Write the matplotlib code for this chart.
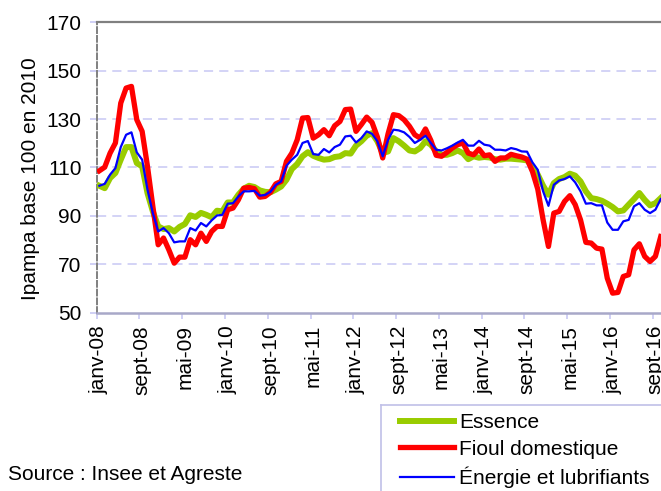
import numpy as np
import matplotlib
matplotlib.use("Agg")
import matplotlib.pyplot as plt
from matplotlib.lines import Line2D

plt.rcParams['font.family'] = ['Liberation Sans', 'DejaVu Sans']

# Monthly series, janv-08 .. oct-16
essence = [102.4, 101.4, 105.6, 107.7, 113.2, 118.4, 118.4, 111.8, 110.4, 99.4,
           91.8, 85.6, 84.5, 84.9, 83.5, 85.4, 86.6, 90.2, 89.5, 91.2,
           90.4, 89.4, 92.1, 91.8, 95.5, 95.5, 98.7, 101.2, 102.4, 101.9,
           100.5, 99.9, 99.7, 100.8, 102.1, 104.9, 109.3, 111.4, 114.6, 116.3,
           114.8, 113.9, 113.2, 113.4, 114.3, 114.6, 115.9, 115.7, 119.0, 120.8,
           123.1, 124.2, 120.8, 115.9, 116.6, 122.1, 120.8, 119.0, 117.0, 116.6,
           118.0, 120.8, 119.4, 116.6, 115.2, 115.2, 115.9, 117.0, 115.9, 113.4,
           114.6, 114.0, 114.3, 114.1, 113.4, 113.2, 113.6, 113.6, 113.4, 113.2,
           112.9, 110.4, 107.0, 102.4, 98.7, 103.5, 105.2, 106.0, 107.4, 106.6,
           104.2, 100.1, 97.3, 96.9, 96.2, 95.0, 93.6, 91.8, 92.2, 94.6,
           96.9, 99.4, 96.6, 94.3, 95.2, 97.3]

fioul = [108.6, 110.1, 115.9, 120.1, 136.6, 142.8, 143.5, 129.7, 124.9, 110.4,
         93.9, 78.0, 80.8, 75.9, 70.4, 72.9, 72.9, 80.1, 78.0, 82.8,
         79.4, 83.5, 85.6, 85.6, 92.5, 93.2, 96.6, 101.4, 101.7, 101.2,
         97.7, 98.0, 99.7, 103.2, 104.2, 112.5, 115.9, 121.4, 130.4, 130.6,
         122.1, 123.5, 125.6, 123.1, 127.2, 129.0, 133.9, 134.1, 124.9, 127.7,
         130.8, 128.6, 122.6, 113.9, 123.9, 131.8, 131.4, 129.7, 127.0, 123.5,
         122.1, 125.9, 121.2, 115.0, 114.6, 116.2, 118.0, 119.4, 120.1, 115.9,
         115.2, 117.6, 114.8, 115.2, 112.5, 113.9, 113.9, 115.4, 114.8, 114.3,
         113.4, 108.3, 101.0, 88.3, 77.3, 91.1, 91.8, 95.9, 98.3, 94.6,
         88.3, 79.0, 78.7, 76.6, 76.2, 64.2, 58.0, 58.3, 64.9, 65.6,
         75.9, 78.4, 73.2, 71.1, 73.2, 81.4]

energie = [102.4, 103.2, 107.0, 109.7, 118.4, 123.5, 124.5, 116.2, 113.2, 100.8,
           91.1, 83.5, 84.9, 82.8, 79.0, 79.4, 79.4, 84.9, 83.9, 87.0,
           85.6, 88.1, 90.1, 90.4, 95.0, 95.2, 98.0, 100.1, 100.1, 100.3,
           98.3, 98.6, 99.9, 102.8, 104.2, 110.7, 113.2, 115.2, 120.1, 120.9,
           115.5, 115.2, 117.6, 116.2, 118.4, 119.4, 122.8, 123.1, 120.3, 122.1,
           124.9, 123.9, 120.8, 114.6, 121.4, 125.6, 125.3, 124.5, 122.6, 120.1,
           121.4, 123.1, 120.1, 117.3, 117.0, 117.9, 119.0, 120.3, 121.4, 119.0,
           119.0, 121.0, 119.4, 119.0, 117.3, 117.3, 117.0, 118.0, 117.5, 116.6,
           116.5, 112.1, 109.0, 100.1, 94.1, 102.8, 104.6, 105.2, 106.3, 103.8,
           100.1, 95.0, 95.2, 94.3, 94.3, 87.2, 84.2, 84.2, 87.7, 88.3,
           93.9, 95.2, 92.5, 91.1, 92.5, 96.9]

tick_labels = ['janv-08', 'sept-08', 'mai-09', 'janv-10', 'sept-10', 'mai-11',
               'janv-12', 'sept-12', 'mai-13', 'janv-14', 'sept-14', 'mai-15',
               'janv-16', 'sept-16']
series_names = ['Essence', 'Fioul domestique', 'Énergie et lubrifiants']
series_colors = ['#99CC00', '#FF0000', '#0000FF']

W, H = 661, 491
fig = plt.figure(figsize=(W / 100, H / 100), dpi=100)
fig.patch.set_facecolor('white')

left, right, top, bottom = 96.7, 663.4, 22.3, 312.5
ax = fig.add_axes([left / W, 1 - bottom / H, (right - left) / W, (bottom - top) / H])

n = len(fioul)
x = np.arange(n) + 0.5

ax.plot(x, essence, color=series_colors[0], lw=4.3, solid_joinstyle='round', zorder=3)
ax.plot(x, fioul, color=series_colors[1], lw=3.8, solid_joinstyle='round', zorder=4)
ax.plot(x, energie, color=series_colors[2], lw=1.6, solid_joinstyle='round', zorder=5)

ax.set_xlim(0, n)
ax.set_ylim(50, 170)

grid_c = '#C8C8F4'
for yv in [70, 90, 110, 130, 150]:
    ax.axhline(yv, color=grid_c, lw=1.1, ls=(0, (6, 4)), zorder=1)

ax.set_yticks(np.arange(50, 171, 20))
ax.set_yticklabels([str(v) for v in range(50, 171, 20)])
ax.tick_params(axis='y', length=5, width=1.2, color=grid_c, pad=6, labelsize=15)

major = np.arange(0, n, 8)
ax.set_xticks(major)
ax.set_xticklabels([''] * len(major))
ax.set_xticks(major + 0.5, minor=True)
ax.set_xticklabels(tick_labels, minor=True, rotation=90)
ax.tick_params(axis='x', which='major', length=4, width=1.2, color=grid_c)
ax.tick_params(axis='x', which='minor', length=0, pad=9, labelsize=15)

ax.spines['top'].set_color('#808080')
ax.spines['top'].set_linewidth(1.6)
ax.spines['left'].set_color('#808080')
ax.spines['left'].set_linewidth(1.4)
ax.spines['left'].set_linestyle((0, (3, 1.5)))
ax.spines['bottom'].set_color('#A8A8C8')
ax.spines['bottom'].set_linewidth(1.8)
ax.spines['right'].set_visible(False)

ax.set_ylabel('Ipampa base 100 en 2010', fontsize=15)
ax.yaxis.set_label_coords(-0.100, 0.46)

# legend frame: only its top and left edges fall inside the picture
box_x, box_y = 381 / W, 1 - 405 / H
fig.add_artist(Line2D([box_x, 1.2], [box_y, box_y], transform=fig.transFigure,
                      color='#C0C0E8', lw=1.2))
fig.add_artist(Line2D([box_x, box_x], [box_y, -0.2], transform=fig.transFigure,
                      color='#C0C0E8', lw=1.2))
handles = [Line2D([], [], color=series_colors[0], lw=4.3),
           Line2D([], [], color=series_colors[1], lw=3.8),
           Line2D([], [], color=series_colors[2], lw=1.6)]
fig.legend(handles, series_names, loc='upper left',
           bbox_to_anchor=(400 / W, 1 - 413 / H), frameon=False, borderpad=0,
           handlelength=2.6, handletextpad=0.25, labelspacing=0.37, fontsize=15,
           borderaxespad=0)

fig.text(8 / W, 1 - 474 / H, 'Source : Insee et Agreste', fontsize=15,
         ha='left', va='center')

fig.savefig('out.png', dpi=100, facecolor='white')
